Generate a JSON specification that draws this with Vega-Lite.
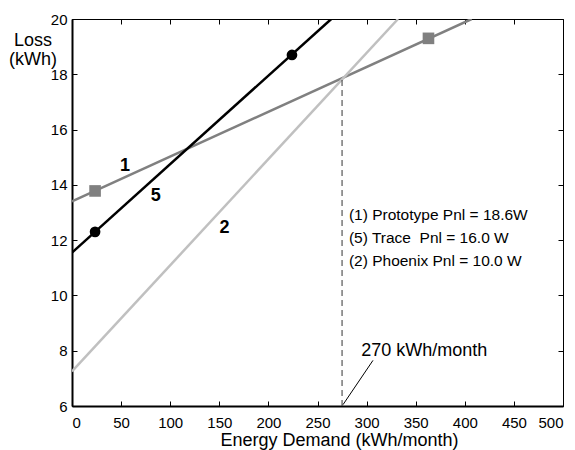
{
  "$schema": "https://vega.github.io/schema/vega-lite/v6.json",
  "autosize": "none",
  "width": 491,
  "height": 387,
  "padding": {"left": 72, "top": 19, "right": 12, "bottom": 44},
  "background": "white",
  "config": {
    "view": {"stroke": "black", "strokeWidth": 1},
    "font": "Liberation Sans",
    "axis": {
      "grid": false,
      "labelFont": "Liberation Sans",
      "titleFont": "Liberation Sans",
      "labelColor": "black",
      "titleColor": "black",
      "tickColor": "black",
      "domainColor": "black",
      "labelFontSize": 15,
      "titleFontSize": 18,
      "titleFontWeight": "normal"
    }
  },
  "datasets": {
    "lines": [
      {"series": "1", "x": 0, "y": 13.4},
      {"series": "1", "x": 407, "y": 20},
      {"series": "5", "x": 0, "y": 11.55},
      {"series": "5", "x": 264, "y": 20},
      {"series": "2", "x": 0, "y": 7.25},
      {"series": "2", "x": 332, "y": 20}
    ],
    "squares": [
      {"x": 23.5, "y": 13.78},
      {"x": 363, "y": 19.3}
    ],
    "circles": [
      {"x": 23.5, "y": 12.3},
      {"x": 224, "y": 18.7}
    ],
    "numlabels": [
      {"x": 54, "y": 14.7, "t": "1"},
      {"x": 85.3, "y": 13.59, "t": "5"},
      {"x": 155.3, "y": 12.44, "t": "2"}
    ],
    "notes": [
      {"x": 282, "y": 12.9, "t": "(1) Prototype Pnl = 18.6W"},
      {"x": 282, "y": 12.07, "t": "(5) Trace\u00a0 Pnl = 16.0 W"},
      {"x": 282, "y": 11.23, "t": "(2) Phoenix Pnl = 10.0 W"}
    ],
    "callout": [
      {"x": 294.5, "y": 8.0, "t": "270 kWh/month"}
    ],
    "dash": [
      {"x": 275, "y": 6, "y2": 17.9}
    ],
    "pointer": [
      {"x": 276, "y": 6.05, "x2": 306.5, "y2": 7.65}
    ]
  },
  "layer": [
    {
      "data": {"name": "lines"},
      "mark": {"type": "line", "strokeWidth": 2.5, "clip": true},
      "encoding": {
        "x": {
          "field": "x", "type": "quantitative",
          "scale": {"domain": [0, 500], "nice": false},
          "axis": {
            "values": [0, 50, 100, 150, 200, 250, 300, 350, 400, 450, 500],
            "tickSize": -5,
            "labelPadding": 14,
            "domainWidth": 2,
            "title": "Energy Demand (kWh/month)",
            "titleX": 267,
            "titleY": 39,
            "titleBaseline": "alphabetic",
            "titleAnchor": "middle"
          }
        },
        "y": {
          "field": "y", "type": "quantitative",
          "scale": {"domain": [6, 20], "nice": false, "zero": false},
          "axis": {
            "values": [6, 8, 10, 12, 14, 16, 18, 20],
            "tickSize": -5,
            "labelPadding": 10,
            "domainWidth": 2,
            "title": ["Loss", "(kWh)"],
            "titleAngle": 0,
            "titleAlign": "center",
            "titleBaseline": "alphabetic",
            "titleX": -39.5,
            "titleY": 26.5,
            "titleLineHeight": 19
          }
        },
        "color": {
          "field": "series", "type": "nominal",
          "scale": {"domain": ["1", "5", "2"], "range": ["#808080", "#000000", "#c0c0c0"]},
          "legend": null
        },
        "detail": {"field": "series"}
      }
    },
    {
      "data": {"name": "dash"},
      "mark": {"type": "rule", "color": "#333333", "strokeWidth": 1, "strokeDash": [6, 4]},
      "encoding": {
        "x": {
          "field": "x", "type": "quantitative",
          "axis": {"orient": "top", "values": [0, 50, 100, 150, 200, 250, 300, 350, 400, 450, 500], "labels": false, "domain": false, "tickSize": -5, "title": null}
        },
        "y": {
          "field": "y", "type": "quantitative",
          "axis": {"orient": "right", "values": [6, 8, 10, 12, 14, 16, 18, 20], "labels": false, "domain": false, "tickSize": -5, "title": null}
        },
        "y2": {"field": "y2"}
      }
    },
    {
      "data": {"name": "pointer"},
      "mark": {"type": "rule", "color": "black", "strokeWidth": 1},
      "encoding": {
        "x": {"field": "x", "type": "quantitative", "axis": null},
        "y": {"field": "y", "type": "quantitative", "axis": null},
        "x2": {"field": "x2"},
        "y2": {"field": "y2"}
      }
    },
    {
      "data": {"name": "squares"},
      "mark": {"type": "square", "size": 135, "filled": true, "color": "#808080", "opacity": 1},
      "encoding": {
        "x": {"field": "x", "type": "quantitative", "axis": null},
        "y": {"field": "y", "type": "quantitative", "axis": null}
      }
    },
    {
      "data": {"name": "circles"},
      "mark": {"type": "circle", "size": 115, "color": "black", "opacity": 1},
      "encoding": {
        "x": {"field": "x", "type": "quantitative", "axis": null},
        "y": {"field": "y", "type": "quantitative", "axis": null}
      }
    },
    {
      "data": {"name": "numlabels"},
      "mark": {"type": "text", "fontSize": 18, "fontWeight": "bold", "color": "black", "align": "center", "baseline": "middle"},
      "encoding": {
        "x": {"field": "x", "type": "quantitative", "axis": null},
        "y": {"field": "y", "type": "quantitative", "axis": null},
        "text": {"field": "t"}
      }
    },
    {
      "data": {"name": "notes"},
      "mark": {"type": "text", "fontSize": 15.5, "color": "black", "align": "left", "baseline": "middle"},
      "encoding": {
        "x": {"field": "x", "type": "quantitative", "axis": null},
        "y": {"field": "y", "type": "quantitative", "axis": null},
        "text": {"field": "t"}
      }
    },
    {
      "data": {"name": "callout"},
      "mark": {"type": "text", "fontSize": 18, "color": "black", "align": "left", "baseline": "middle"},
      "encoding": {
        "x": {"field": "x", "type": "quantitative", "axis": null},
        "y": {"field": "y", "type": "quantitative", "axis": null},
        "text": {"field": "t"}
      }
    }
  ],
  "resolve": {"axis": {"x": "independent", "y": "independent"}}
}
